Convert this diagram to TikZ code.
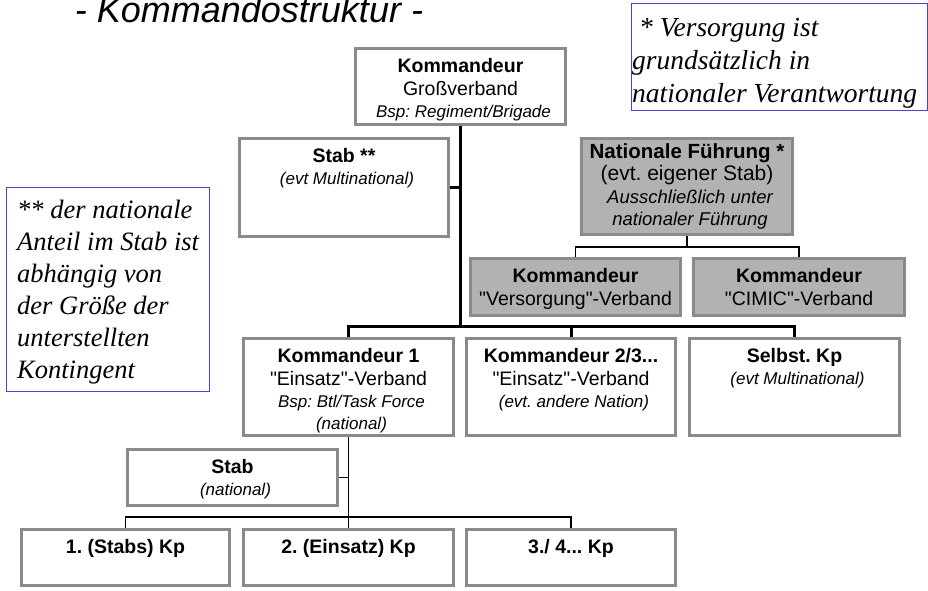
\documentclass[tikz,border=0pt]{standalone}
\usepackage{fontspec}
\setmainfont{Liberation Serif}
\setsansfont{Liberation Sans}[Ligatures=TeXOff]
\frenchspacing

\definecolor{boxgray}{RGB}{138,138,138}
\definecolor{natfill}{RGB}{178,178,178}
\definecolor{noteblue}{RGB}{70,70,210}

% box contents: fixed-size area, lines stacked from the top
\newcommand\boxtext[3]{\parbox[c][#2][t]{#1}{\centering #3}}
\newcommand\boxhead[2][23.5pt]{{\fontsize{19.5}{23}\selectfont\bfseries\rule{0pt}{#1}#2\par}}
\newcommand\boxline[1]{{\fontsize{19.5}{23}\selectfont #1\par}}
\newcommand\boxnote[1]{{\fontsize{17}{22}\selectfont\itshape\hspace*{6pt}#1\par}}

\tikzset{
  orgbox/.style={draw=boxgray, line width=3pt, fill=white, inner sep=0pt,
                 font=\sffamily},
  natbox/.style={orgbox, fill=natfill},
  notebox/.style={draw=noteblue, line width=1pt, fill=white, inner sep=0pt},
  notetext/.style={anchor=base west, inner sep=0pt,
                   font={\rmfamily\itshape\fontsize{26.5}{32}\selectfont}},
  mainline/.style={draw=black, line width=3pt},
  subline/.style={draw=black, line width=1.2pt},
}

\begin{document}
\begin{tikzpicture}[x=1pt, y=-1pt]
\useasboundingbox (0,0) rectangle (928,590);

% title
\node[anchor=base, inner sep=0pt, font={\sffamily\itshape\fontsize{36}{40}\selectfont}]
  (title) at (249,22) {- Kommandostruktur -};

% footnote boxes
\node[notebox, minimum width=296pt, minimum height=107pt] (noteA) at (779,56.5) {};
\node[notetext, font={\rmfamily\itshape\fontsize{27.5}{33}\selectfont}] (noteAtext) at (632,36)
  {\parbox[t]{300pt}{\raggedright\hspace*{7pt}* Versorgung ist\\grundsätzlich in\\nationaler Verantwortung}};

\node[notebox, minimum width=203pt, minimum height=204pt] (noteB) at (107.5,289) {};
\node[notetext] (noteBtext) at (17,218)
  {\parbox[t]{300pt}{\raggedright ** der nationale\\Anteil im Stab ist\\abhängig von\\der Größe der\\unterstellten\\Kontingent}};

% command level
\node[orgbox] (top) at (460.5,86.5)
  {\boxtext{210pt}{76pt}{\boxhead{Kommandeur}\boxline{Großverband}\boxnote{Bsp: Regiment/Brigade}}};
\node[orgbox] (stab) at (344,187.5)
  {\boxtext{209pt}{98pt}{\boxhead{Stab **}\boxnote{(evt Multinational)}}};
\node[natbox] (nat) at (687,186.5)
  {\boxtext{211pt}{96pt}{%
   {\fontsize{20.5}{22}\selectfont\bfseries\rule{0pt}{19.5pt}Nationale Führung *\par}%
   {\fontsize{21}{22}\selectfont (evt. eigener Stab)\par}%
   {\fontsize{18.5}{23}\selectfont\itshape\hspace*{6pt}Ausschließlich unter\par}%
   {\fontsize{18.5}{22}\selectfont\itshape\hspace*{6pt}nationaler Führung\par}}};

% national units
\node[natbox] (vers) at (575.5,287)
  {\boxtext{210pt}{57pt}{\boxhead{Kommandeur}\boxline{"Versorgung"-Verband}}};
\node[natbox] (cimic) at (799,287)
  {\boxtext{211pt}{57pt}{\boxhead{Kommandeur}\boxline{"CIMIC"-Verband}}};

% subordinate units
\node[orgbox] (k1) at (348.5,387)
  {\boxtext{210pt}{97pt}{\boxhead{Kommandeur 1}\boxline{"Einsatz"-Verband}\boxnote{Bsp: Btl/Task Force}\boxnote{(national)}}};
\node[orgbox] (k23) at (571,387)
  {\boxtext{209pt}{97pt}{\boxhead{Kommandeur 2/3...}\boxline{"Einsatz"-Verband}\boxnote{(evt. andere Nation)}}};
\node[orgbox] (selbst) at (794.5,387)
  {\boxtext{210pt}{97pt}{\boxhead{Selbst. Kp}\boxnote{(evt Multinational)}}};

% battalion level
\node[orgbox] (stabn) at (232.5,477.5)
  {\boxtext{210pt}{56pt}{\boxhead{Stab}\boxnote{(national)}}};
\node[orgbox] (kp1) at (125.5,557.5)
  {\boxtext{208pt}{56pt}{\boxhead{1. (Stabs) Kp}}};
\node[orgbox] (kp2) at (348.5,557.5)
  {\boxtext{210pt}{56pt}{\boxhead{2. (Einsatz) Kp}}};
\node[orgbox] (kp3) at (571,557.5)
  {\boxtext{209pt}{56pt}{\boxhead{3./ 4... Kp}}};

% main chain of command
\coordinate (bus) at (460.5,326);
\draw[mainline] (top.south) -- (bus);
\draw[mainline] (stab.east) -- (stab.east -| top.south);
\draw[mainline] (k1.north) |- (selbst.north |- bus) -- (selbst.north);
\draw[mainline] (k23.north) -- (k23.north |- bus);

% national branch
\coordinate (natbus) at (687,247);
\draw[subline] (nat.south) -- (natbus);
\draw[subline] (vers.north) |- (cimic.north |- natbus) -- (cimic.north);

% battalion branch
\coordinate (kpbus) at (348.5,517);
\draw[subline] (k1.south) -- (kp2.north);
\draw[subline] (kp1.north) |- (kp3.north |- kpbus) -- (kp3.north);
\draw[subline] (stabn.east) -- (stabn.east -| k1.south);
\end{tikzpicture}
\end{document}
